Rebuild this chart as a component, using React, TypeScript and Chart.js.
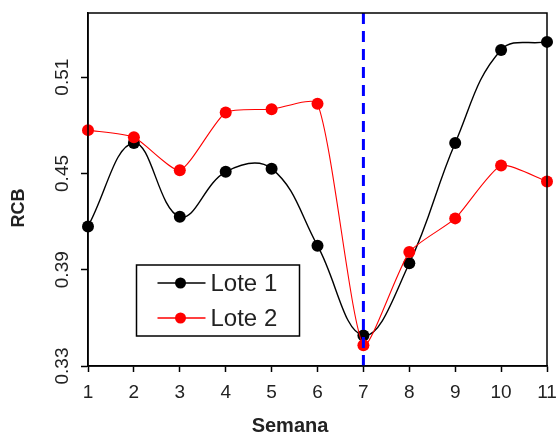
import React, { useEffect, useRef } from 'react';
import { Chart, registerables } from 'chart.js';

Chart.register(...registerables);

// Weeks on the x axis
const semanas = [1, 2, 3, 4, 5, 6, 7, 8, 9, 10, 11];
// RCB per week for each batch
const lote1 = [0.417, 0.469, 0.423, 0.451, 0.453, 0.405, 0.349, 0.394, 0.469, 0.527, 0.532];
const lote2 = [0.477, 0.4725, 0.452, 0.488, 0.49, 0.4935, 0.343, 0.401, 0.422, 0.455, 0.445];
const seriesNames = ['Lote 1', 'Lote 2'];
const seriesColors = ['#000000', '#ff0000'];
// Axis ranges and ticks
const yTicks = [0.33, 0.39, 0.45, 0.51];
const yMin = 0.33;
const yMax = 0.55;
const xMin = 1;
const xMax = 11;
// Week marked with the dashed vertical line
const markerWeek = 7;

const FONT = '"Liberation Sans", Arial, sans-serif';

const frameAndLabels = {
  id: 'frameAndLabels',
  afterDraw(chart: any) {
    const { ctx, chartArea } = chart;
    ctx.save();
    // plot frame
    ctx.strokeStyle = '#000';
    ctx.lineWidth = 1.5;
    ctx.strokeRect(chartArea.left, chartArea.top, chartArea.right - chartArea.left, chartArea.bottom - chartArea.top);

    // axis titles
    ctx.fillStyle = '#222';
    ctx.font = `bold 20px ${FONT}`;
    ctx.textAlign = 'center';
    ctx.textBaseline = 'middle';
    ctx.fillText('Semana', 290, 426);
    ctx.save();
    ctx.translate(19, 208);
    ctx.rotate(-Math.PI / 2);
    ctx.font = `bold 18px ${FONT}`;
    ctx.fillText('RCB', 0, 0);
    ctx.restore();

    // legend box
    const bx = chartArea.left + 48.5;
    const by = chartArea.top + 252;
    const bw = 163;
    const bh = 71;
    ctx.fillStyle = '#fff';
    ctx.fillRect(bx, by, bw, bh);
    ctx.strokeStyle = '#000';
    ctx.lineWidth = 1.5;
    ctx.strokeRect(bx, by, bw, bh);
    ctx.font = `24px ${FONT}`;
    ctx.textAlign = 'left';
    ctx.textBaseline = 'middle';
    seriesNames.forEach((name, i) => {
      const cy = by + 18 + i * 35;
      ctx.strokeStyle = seriesColors[i];
      ctx.lineWidth = 1.5;
      ctx.beginPath();
      ctx.moveTo(bx + 21, cy);
      ctx.lineTo(bx + 69, cy);
      ctx.stroke();
      ctx.fillStyle = seriesColors[i];
      ctx.beginPath();
      ctx.arc(bx + 44, cy, 5.5, 0, Math.PI * 2);
      ctx.fill();
      ctx.fillStyle = '#222';
      ctx.fillText(name, bx + 74, cy + 1);
    });
    ctx.restore();
  },
};

export default function App() {
  const canvasRef = useRef<HTMLCanvasElement | null>(null);

  useEffect(() => {
    if (!canvasRef.current) return;
    const chart = new Chart(canvasRef.current, {
      type: 'line',
      data: {
        datasets: [
          {
            label: 'Semana marcada',
            data: [
              { x: markerWeek, y: yMax },
              { x: markerWeek, y: yMin },
            ],
            borderColor: '#0000ff',
            borderWidth: 3,
            borderDash: [11, 7],
            pointRadius: 0,
            tension: 0,
            clip: false as any,
            order: 0,
          },
          {
            label: seriesNames[1],
            data: semanas.map((x, i) => ({ x, y: lote2[i] })),
            borderColor: seriesColors[1],
            backgroundColor: seriesColors[1],
            borderWidth: 1.1,
            pointRadius: 6,
            pointHoverRadius: 6,
            pointBorderWidth: 0,
            tension: 0.2,
            clip: false as any,
            order: 1,
          },
          {
            label: seriesNames[0],
            data: semanas.map((x, i) => ({ x, y: lote1[i] })),
            borderColor: seriesColors[0],
            backgroundColor: seriesColors[0],
            borderWidth: 1.4,
            pointRadius: 6,
            pointHoverRadius: 6,
            pointBorderWidth: 0,
            tension: 0.4,
            clip: false as any,
            order: 2,
          },
        ],
      },
      options: {
        responsive: false,
        animation: false,
        events: [],
        layout: { padding: { top: 13, right: 9, left: 0, bottom: 0 } },
        plugins: {
          legend: { display: false },
          tooltip: { enabled: false },
        },
        scales: {
          x: {
            type: 'linear',
            min: xMin,
            max: xMax,
            afterBuildTicks: (scale: any) => {
              scale.ticks = semanas.map((v) => ({ value: v }));
            },
            afterFit: (scale: any) => {
              scale.height = 69;
              scale.paddingLeft = 0;
              scale.paddingRight = 0;
            },
            grid: {
              drawOnChartArea: false,
              drawTicks: true,
              tickLength: 6,
              tickColor: '#000',
              tickWidth: 1.5,
            },
            border: { display: true, color: '#000', width: 1.5 },
            ticks: {
              color: '#222',
              font: { family: FONT, size: 19 },
              padding: 9,
              maxRotation: 0,
              minRotation: 0,
              autoSkip: false,
            },
          },
          y: {
            type: 'linear',
            min: yMin,
            max: yMax,
            afterBuildTicks: (scale: any) => {
              scale.ticks = yTicks.map((v) => ({ value: v }));
            },
            afterFit: (scale: any) => {
              scale.width = 88;
              scale.paddingTop = 0;
              scale.paddingBottom = 0;
            },
            grid: {
              drawOnChartArea: false,
              drawTicks: true,
              tickLength: 7,
              tickColor: '#000',
              tickWidth: 1.5,
            },
            border: { display: true, color: '#000', width: 1.5 },
            ticks: {
              color: '#222',
              font: { family: FONT, size: 19 },
              padding: 0,
              minRotation: 90,
              maxRotation: 90,
              crossAlign: 'center',
              autoSkip: false,
              callback: (v: any) => Number(v).toFixed(2),
            },
          },
        },
      },
      plugins: [frameAndLabels],
    });
    return () => chart.destroy();
  }, []);

  return (
    <div style={{ position: 'fixed', left: 0, top: 0, width: 556, height: 435, background: '#fff' }}>
      <canvas ref={canvasRef} width={556} height={435} />
    </div>
  );
}
